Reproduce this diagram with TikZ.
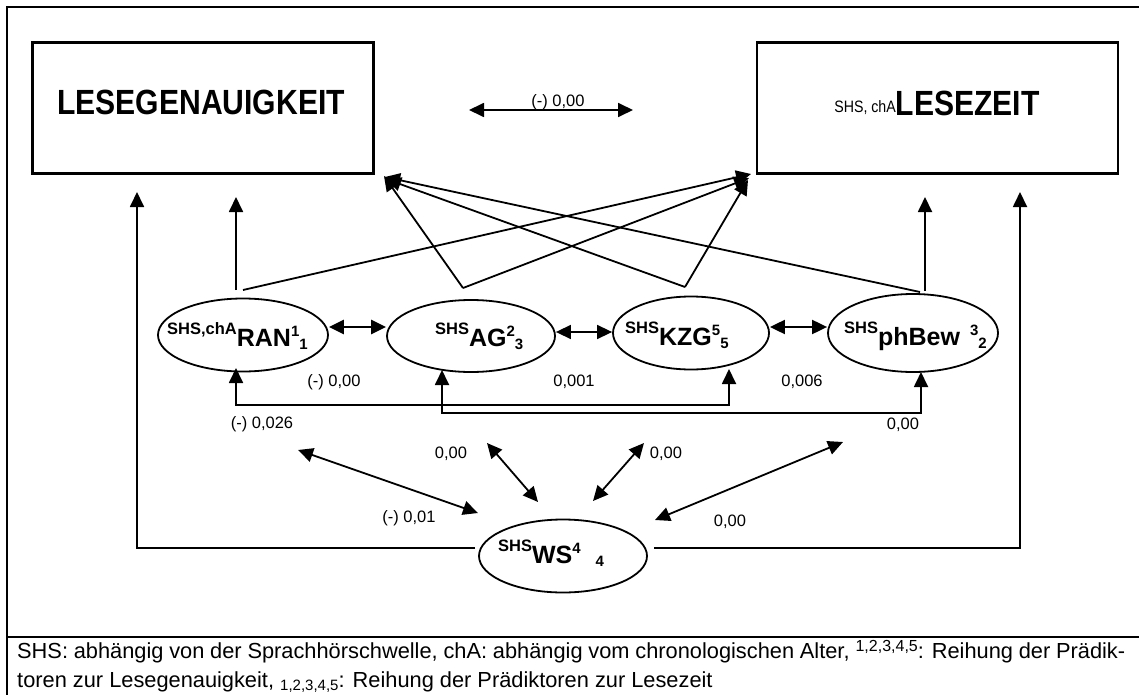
\documentclass[tikz,border=0pt]{standalone}
\usepackage{fontspec}
\setmainfont{Liberation Sans}
\newfontfamily\titlefont[FakeStretch=0.86]{Liberation Sans}
\usetikzlibrary{arrows.meta,shapes.geometric}
\newcommand\fs[1]{\fontsize{#1}{#1}\selectfont}
\newcommand\elab[5]{\bfseries\raisebox{12pt}{\fs{16.5}#1}\fs{25}#2\raisebox{10pt}{\fs{15}#3}\hspace{#5}\raisebox{-3pt}{\fs{15}#4}}
\tikzset{
  >={Triangle[length=15pt,width=14pt]},
  arr/.style={->, line width=1.8pt},
  dbl/.style={<->, line width=1.8pt},
  box/.style={draw, line width=2.7pt, inner sep=0pt, minimum height=131pt},
  ell/.style={draw, ellipse, line width=1.8pt, inner sep=0pt},
  lab/.style={font=\fs{16.5}, inner sep=0pt, text height=11.7pt, text depth=0pt},
  elabel/.style={anchor=base west, inner sep=0pt},
}
\begin{document}
\begin{tikzpicture}[x=1pt,y=-1pt]
\useasboundingbox (0,0) rectangle (1139,695);
% frame
\draw[line width=2.7pt] (7,705) -- (7,7) -- (1150,7);
\draw[line width=2.7pt] (7,637) -- (1150,637);

% boxes
\node[box, minimum width=341pt] (lg) at (203,108) {};
\node[box, minimum width=361pt] (lz) at (937.5,108) {};
\node[anchor=base, inner sep=0pt, font=\titlefont\bfseries\fs{35}] (lgT) at (201,115) {LESEGENAUIGKEIT};
\node[anchor=base, inner sep=0pt, font=\titlefont\fs{35}] (lzT) at (937,116) {\raisebox{3pt}{\fs{16.5}SHS, chA}\textbf{LESEZEIT}};

% arrow between boxes
\coordinate (bA) at (469,110);
\coordinate (bB) at (633,110);
\draw[dbl] (bA) -- (bB);
\node[lab] (lbAB) at (558,101) {(-) 0,00};

% ellipses
\node[ell, minimum width=170pt, minimum height=73pt] (ran) at (243,335) {};
\node[ell, minimum width=168pt, minimum height=72pt] (ag) at (471,336) {};
\node[ell, minimum width=156pt, minimum height=73pt] (kzg) at (691,333) {};
\node[ell, minimum width=170pt, minimum height=78pt] (phb) at (913,333) {};
\node[ell, minimum width=168pt, minimum height=73pt] (ws) at (563,556) {};

\node[elabel] (ranT) at (167,346) {\elab{SHS,chA}{RAN}{1}{1}{0pt}};
\node[elabel] (agT) at (435,346) {\elab{SHS}{AG}{2}{3}{0pt}};
\node[elabel] (kzgT) at (625,345) {\elab{SHS}{KZG}{5}{5}{0pt}};
\node[elabel] (phbT) at (844,345) {\elab{SHS}{phBew\hspace{10pt}}{3}{2}{0pt}};
\node[elabel] (wsT) at (498,563) {\elab{SHS}{WS}{4}{4}{15pt}};

% tips near boxes
\coordinate (L1) at (384,176);
\coordinate (L2) at (386,179);
\coordinate (L3) at (385,177);
\coordinate (R1) at (751,174);
\coordinate (R2) at (749,178);
\coordinate (R3) at (748,180);

% starts above ellipses
\coordinate (ranV) at (236,290);
\coordinate (ranD) at (243,290);
\coordinate (agA) at (463,288);
\coordinate (kzgA) at (685,287);
\coordinate (phbD) at (920,292);
\coordinate (phbV) at (925,291);
\coordinate (lgV) at (236,197);
\coordinate (lzV) at (925,197);

\draw[arr] (ranV) -- (lgV);
\draw[arr] (phbV) -- (lzV);
\draw[arr] (ranD) -- (R1);
\draw[arr] (agA) -- (L1);
\draw[arr] (agA) -- (R2);
\draw[arr] (kzgA) -- (L2);
\draw[arr] (kzgA) -- (R3);
\draw[arr] (phbD) -- (L3);

% WS to boxes
\coordinate (wsL) at (475,548);
\coordinate (wsR) at (654,548);
\coordinate (lgW) at (137,192);
\coordinate (lzW) at (1020,192);
\draw[arr] (wsL) -| (lgW);
\draw[arr] (wsR) -| (lzW);

% horizontal double arrows between ellipses
\draw[<->, line width=2.6pt] (ran.east |- 0,327) -- (ag.west |- 0,327);
\draw[<->, line width=1.5pt] (ag.east |- 0,332) -- (kzg.west |- 0,332);
\draw[<->, line width=2pt] (kzg.east |- 0,327) -- (phb.west |- 0,327);
\node[lab] (l1) at (334,381) {(-) 0,00};
\node[lab] (l2) at (574,381) {0,001};
\node[lab] (l3) at (802,381) {0,006};

% bottom bracket connectors
\coordinate (ranB) at (236,368);
\coordinate (kzgB) at (729,369);
\coordinate (agB) at (442,370);
\coordinate (phbB) at (921,372);
\draw[dbl] (ranB) -- (236,405) -- (729,405) -- (kzgB);
\draw[dbl] (agB) -- (442,413) -- (921,413) -- (phbB);
\node[lab] (l4) at (262,423) {(-) 0,026};
\node[lab] (l5) at (903,424) {0,00};

% diagonal double arrows to WS
\coordinate (d1a) at (298,450); \coordinate (d1b) at (478,513);
\coordinate (d2a) at (487,443); \coordinate (d2b) at (538,502);
\coordinate (d3a) at (644,443); \coordinate (d3b) at (593,501);
\coordinate (d4a) at (843,442); \coordinate (d4b) at (655,520);
\draw[dbl] (d1a) -- (d1b);
\draw[dbl] (d2a) -- (d2b);
\draw[dbl] (d3a) -- (d3b);
\draw[dbl] (d4a) -- (d4b);
\node[lab] (l6) at (409,517) {(-) 0,01};
\node[lab] (l7) at (451,453) {0,00};
\node[lab] (l8) at (666,453) {0,00};
\node[lab] (l9) at (730,521) {0,00};

% caption
\node[anchor=base west, inner sep=0pt, font=\fs{21.8}] (cap1) at (17,658)
  {\makebox[1108pt][s]{SHS: abhängig von der Sprachhörschwelle, chA: abhängig vom chronologischen Alter, \raisebox{7pt}{\fs{16}1,2,3,4,5}: Reihung der Prädik-}};
\node[anchor=base west, inner sep=0pt, font=\fs{21.8}] (cap2) at (17,687)
  {toren zur Lesegenauigkeit, \raisebox{-3pt}{\fs{15}1,2,3,4,5}: Reihung der Prädiktoren zur Lesezeit};
\end{tikzpicture}
\end{document}
